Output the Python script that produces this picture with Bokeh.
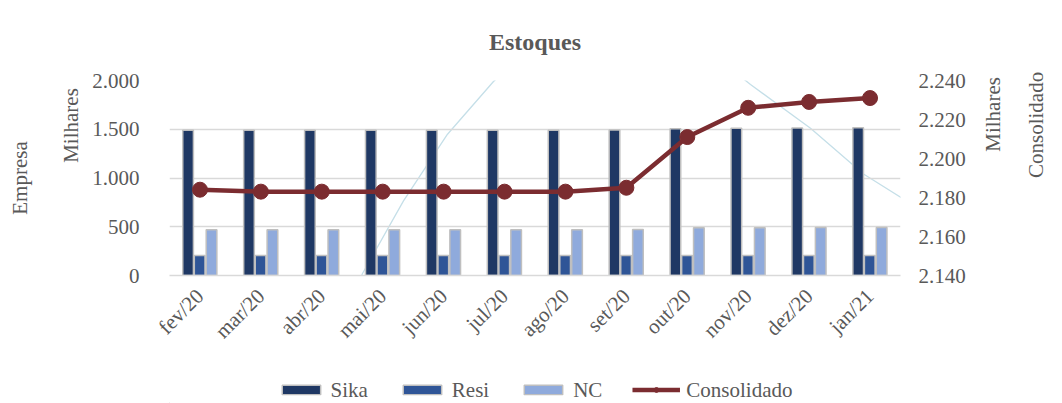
import math
from bokeh.plotting import figure
from bokeh.layouts import column
from bokeh.models import (Range1d, LinearAxis, Legend, LegendItem,
                          CustomJSTickFormatter, FixedTicker, ColumnDataSource)
from bokeh.transform import dodge
from bokeh.embed import file_html
from bokeh.resources import INLINE

months = ["fev/20", "mar/20", "abr/20", "mai/20", "jun/20", "jul/20",
          "ago/20", "set/20", "out/20", "nov/20", "dez/20", "jan/21"]
sika = [1490, 1490, 1490, 1490, 1490, 1490, 1490, 1492, 1505, 1510, 1512, 1515]
resi = [205, 205, 205, 205, 205, 205, 205, 205, 205, 205, 205, 205]
nc = [470, 470, 470, 470, 470, 470, 470, 472, 490, 490, 492, 492]
consolidado = [2184, 2183, 2183, 2183, 2183, 2183, 2183, 2185, 2211, 2226, 2229, 2231]
left_ticks = [0, 500, 1000, 1500, 2000]
right_ticks = [2140, 2160, 2180, 2200, 2220, 2240]

# decorative background arc (page pixel coordinates)
arc_left_x = [322, 337, 362, 403, 447, 493, 537]
arc_left_y = [383, 333, 273, 200, 133, 80, 40]
arc_right_x = [730, 750, 810, 863, 917, 983]
arc_right_y = [67, 83, 127, 173, 207, 237]

FONT = "Liberation Serif"
GRAY = "#595959"
C_SIKA, C_RESI, C_NC, C_CONS, C_EDGE = "#1f3864", "#2f5597", "#8faadc", "#7b2c30", "#bfbfbf"
NB = "\u00a0"

W = 1062
H1, H2 = 376, 27
fl, fr, ft, fb = 169, 900, 79, 275

idx = list(range(len(months)))

p = figure(width=W, height=H1, output_backend="svg", toolbar_location=None,
           x_range=Range1d(-0.5, len(months) - 0.5), y_range=Range1d(0, 2000),
           min_border_left=fl, min_border_right=W - fr, min_border_top=ft,
           min_border_bottom=H1 - fb)
p.extra_y_ranges = {"right": Range1d(2140, 2240), "py": Range1d(fb, ft)}
p.extra_x_ranges = {"px": Range1d(fl, fr)}
p.outline_line_color = None
p.background_fill_color = "white"

p.title.text = "Estoques"
p.title.align = "center"
p.title.text_font = FONT
p.title.text_font_size = "24px"
p.title.text_font_style = "bold"
p.title.text_color = GRAY
p.title.standoff = 52

p.xgrid.grid_line_color = None
p.ygrid.grid_line_color = "#d9d9d9"
p.ygrid.grid_line_width = 1.3
p.yaxis.ticker = FixedTicker(ticks=left_ticks)

fmt = CustomJSTickFormatter(code="""
    var s = Math.round(tick).toString();
    return s.replace(/\\B(?=(\\d{3})+(?!\\d))/g, '.');
""")


def style_axis(a, label="", standoff=10, label_standoff=6):
    a.axis_line_color = None
    a.major_tick_line_color = None
    a.minor_tick_line_color = None
    a.major_label_text_font = FONT
    a.major_label_text_font_size = "21px"
    a.major_label_text_color = GRAY
    a.major_label_standoff = standoff
    a.axis_label = label
    a.axis_label_text_font = FONT
    a.axis_label_text_font_size = "21px"
    a.axis_label_text_font_style = "normal"
    a.axis_label_text_color = GRAY
    a.axis_label_standoff = label_standoff


ax = p.yaxis[0]
ax.formatter = fmt
style_axis(ax, NB * 20 + "Milhares", standoff=24, label_standoff=6)
props = ax.properties()

ax2 = LinearAxis(ticker=FixedTicker(ticks=[]))
style_axis(ax2, "Empresa", standoff=0, label_standoff=25)
ax2.major_label_text_font_size = "1px"
p.add_layout(ax2, "left")

rax = LinearAxis(y_range_name="right", ticker=FixedTicker(ticks=right_ticks), formatter=fmt)
style_axis(rax, NB * 5 + "Milhares", standoff=12, label_standoff=24)
p.add_layout(rax, "right")

rax2 = LinearAxis(y_range_name="right", ticker=FixedTicker(ticks=[]))
style_axis(rax2, "Consolidado", standoff=0, label_standoff=16)
rax2.major_label_text_font_size = "1px"
p.add_layout(rax2, "right")

if "axis_label_orientation" in props:
    rax.axis_label_orientation = math.pi / 2
    rax2.axis_label_orientation = math.pi / 2

xa = p.xaxis[0]
xa.ticker = FixedTicker(ticks=idx)
xa.major_label_overrides = {i: m for i, m in zip(idx, months)}
xa.axis_line_color = "#d9d9d9"
xa.axis_line_width = 1.3
xa.major_tick_line_color = None
xa.minor_tick_line_color = None
xa.major_label_orientation = math.pi / 4
xa.major_label_text_font = FONT
xa.major_label_text_font_size = "21px"
xa.major_label_text_color = GRAY
xa.major_label_standoff = 11

# background arc (only the part inside the plot area can be drawn)
for axx, ayy in ((arc_left_x, arc_left_y), (arc_right_x, arc_right_y)):
    p.line(x=axx, y=ayy, x_range_name="px", y_range_name="py",
           line_color="#c5dfe8", line_width=1.3, level="underlay")

cds = ColumnDataSource(dict(i=idx, m=months, sika=sika, resi=resi, nc=nc, c=consolidado))

bw = 0.175
p.vbar(x=dodge("i", -0.195), top="sika", width=bw, source=cds,
       fill_color=C_SIKA, line_color=C_EDGE, line_width=1.5)
p.vbar(x=dodge("i", -0.005), top="resi", width=bw, source=cds,
       fill_color=C_RESI, line_color=C_EDGE, line_width=1.5)
p.vbar(x=dodge("i", 0.19), top="nc", width=bw, source=cds,
       fill_color=C_NC, line_color=C_EDGE, line_width=1.5)
p.line(x="i", y="c", source=cds, y_range_name="right", line_color=C_CONS, line_width=4.5)
p.scatter(x="i", y="c", source=cds, y_range_name="right", size=15,
          fill_color=C_CONS, line_color=C_CONS)

# legend strip below the chart (renderers hold one point outside the visible range)
q = figure(width=W, height=H2, output_backend="svg", toolbar_location=None, title=None,
           x_range=Range1d(0, 1), y_range=Range1d(0, 1), x_axis_type=None, y_axis_type=None,
           min_border=0)
q.outline_line_color = None
q.xgrid.grid_line_color = None
q.ygrid.grid_line_color = None
hidden = ColumnDataSource(dict(x=[-10], y=[-10]))
g1 = q.vbar(x="x", top="y", width=0.1, source=hidden, fill_color=C_SIKA, line_color=C_EDGE, line_width=1.5)
g2 = q.vbar(x="x", top="y", width=0.1, source=hidden, fill_color=C_RESI, line_color=C_EDGE, line_width=1.5)
g3 = q.vbar(x="x", top="y", width=0.1, source=hidden, fill_color=C_NC, line_color=C_EDGE, line_width=1.5)
g4 = q.line(x="x", y="y", source=hidden, line_color=C_CONS, line_width=4.5)
g5 = q.scatter(x="x", y="y", source=hidden, size=15, fill_color=C_CONS, line_color=C_CONS)

legend = Legend(items=[LegendItem(label="Sika", renderers=[g1]),
                       LegendItem(label="Resi", renderers=[g2]),
                       LegendItem(label="NC", renderers=[g3]),
                       LegendItem(label="Consolidado", renderers=[g4, g5])],
                orientation="horizontal", location="center",
                label_text_font=FONT, label_text_font_size="21px", label_text_color=GRAY,
                label_height=20, glyph_width=48, glyph_height=12, label_standoff=6, spacing=30,
                border_line_color=None, background_fill_alpha=0, padding=0, margin=0)
q.add_layout(legend)

open("out.html", "w").write(file_html(column(p, q, spacing=0), INLINE))
